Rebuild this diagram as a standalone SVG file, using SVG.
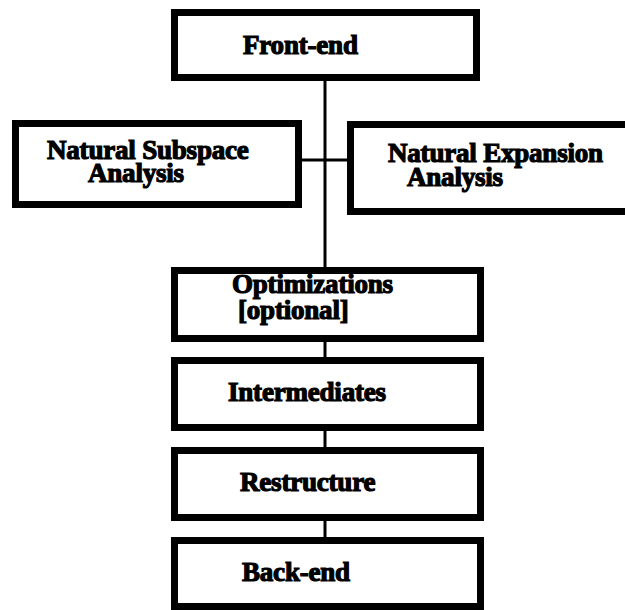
<svg xmlns="http://www.w3.org/2000/svg" width="625" height="610" viewBox="0 0 625 610">
  <style>
    .box { fill: #ffffff; stroke: #000000; stroke-width: 7; }
    .wire { stroke: #000000; stroke-width: 3; fill: none; }
    .lbl { font-family: "Liberation Serif", "DejaVu Serif", serif; font-weight: bold; font-size: 27px; fill: #000000; stroke: #000000; stroke-width: 1.2; letter-spacing: -0.2px; }
  </style>
  <rect width="625" height="610" fill="#ffffff"/>

  <!-- connectors: main spine, side branch, and links between the stacked stages -->
  <g id="connectors">
    <line class="wire" x1="325" y1="78" x2="325" y2="270"/>
    <line class="wire" x1="299" y1="160" x2="351" y2="160"/>
    <line class="wire" x1="325" y1="339" x2="325" y2="360"/>
    <line class="wire" x1="325" y1="428" x2="325" y2="450"/>
    <line class="wire" x1="325" y1="518" x2="325" y2="540"/>
  </g>

  <g id="front-end">
    <rect class="box" x="174.5" y="12.5" width="302" height="65"/>
    <text class="lbl" x="243" y="54">Front-end</text>
  </g>

  <g id="natural-subspace">
    <rect class="box" x="15.5" y="123.5" width="283" height="81"/>
    <text class="lbl"><tspan x="47" y="159">Natural Subspace</tspan><tspan x="88" y="182">Analysis</tspan></text>
  </g>

  <g id="natural-expansion">
    <rect class="box" x="350.5" y="124.5" width="290" height="87"/>
    <text class="lbl"><tspan x="388" y="162">Natural Expansion</tspan><tspan x="407" y="186">Analysis</tspan></text>
  </g>

  <g id="optimizations">
    <rect class="box" x="174.5" y="270.5" width="306" height="68"/>
    <text class="lbl"><tspan x="232" y="293">Optimizations</tspan><tspan x="238" y="319">[optional]</tspan></text>
  </g>

  <g id="intermediates">
    <rect class="box" x="174.5" y="360.5" width="306" height="67"/>
    <text class="lbl" x="228" y="401">Intermediates</text>
  </g>

  <g id="restructure">
    <rect class="box" x="174.5" y="450.5" width="306" height="67"/>
    <text class="lbl" x="240" y="491">Restructure</text>
  </g>

  <g id="back-end">
    <rect class="box" x="174.5" y="540.5" width="306" height="66"/>
    <text class="lbl" x="242" y="581">Back-end</text>
  </g>
</svg>
